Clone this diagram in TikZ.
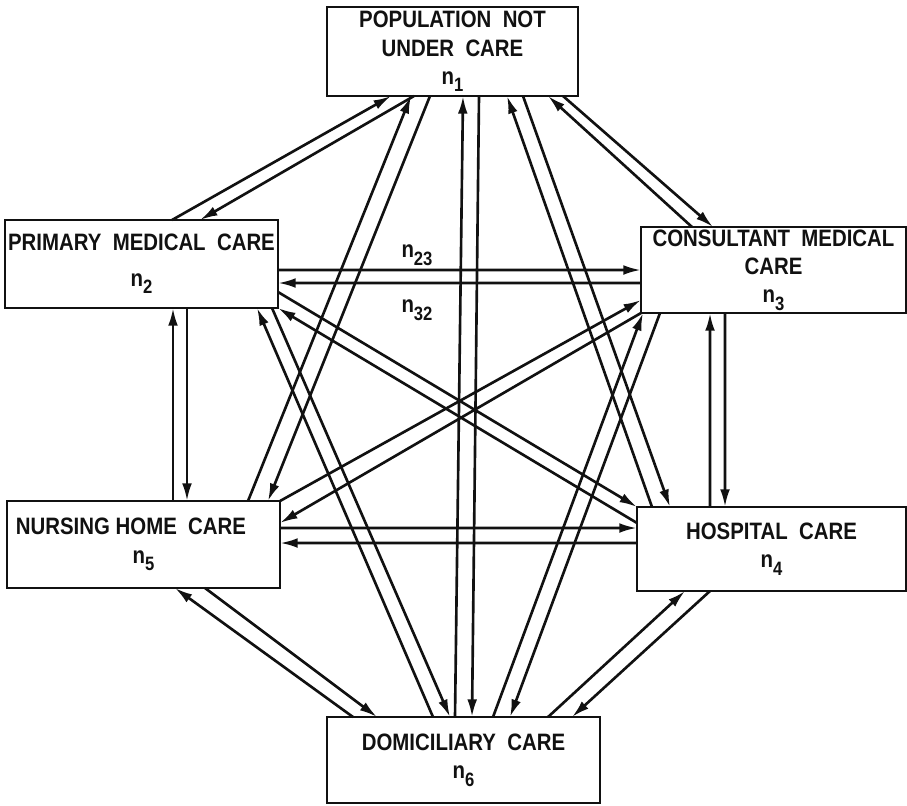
\documentclass[tikz,border=0pt]{standalone}
\usepackage{fontspec}
\setmainfont{Liberation Sans}
\newfontfamily\boxfont[FakeStretch=0.86]{Liberation Sans}
\usetikzlibrary{arrows.meta}
\definecolor{ink}{HTML}{111111}
\newcommand{\nlab}[1]{n\raisebox{-0.6ex}{\fontsize{11}{11}\selectfont #1}}

\begin{document}
\begin{tikzpicture}[
  box/.style={rectangle, draw=ink, line width=1.5pt, inner sep=0pt, outer sep=0pt,
              align=center, fill=white, text=ink,
              font=\boxfont\fontsize{13.5}{16}\selectfont\bfseries},
  arr/.style={-{Latex[length=10pt,width=5.5pt]}, line width=1.5pt, draw=ink},
  lab/.style={font=\boxfont\fontsize{13.5}{15}\selectfont\bfseries, text=ink}
]
\useasboundingbox (0,0) rectangle (18.14,-16.10);

\node[box, minimum width=5.02cm, minimum height=1.78cm] (n1) at (9.05,-1.03)
  {POPULATION \ NOT\\UNDER \ CARE\\\nlab{1}};
\node[box, minimum width=5.46cm, minimum height=1.76cm] (n2) at (2.83,-5.28)
  {PRIMARY \ MEDICAL \ CARE\\[4pt]\nlab{2}};
\node[box, minimum width=5.30cm, minimum height=1.72cm] (n3) at (15.47,-5.40)
  {CONSULTANT \ MEDICAL\\CARE\\\nlab{3}};
\node[box, minimum width=5.38cm, minimum height=1.68cm] (n4) at (15.43,-10.98)
  {HOSPITAL \ CARE\\\nlab{4}};
\node[box, minimum width=5.46cm, minimum height=1.74cm] (n5) at (2.87,-10.89)
  {NURSING HOME \ CARE\hspace*{0.5cm}\\\nlab{5}};
\node[box, minimum width=5.46cm, minimum height=1.72cm] (n6) at (9.27,-15.20)
  {DOMICILIARY \ CARE\\\nlab{6}};

\node[lab] (l23) at (8.34,-5.10) {\nlab{23}};
\node[lab] (l32) at (8.34,-6.20) {\nlab{32}};

% population not under care
\draw[arr] ([xshift=3.34cm]n2.north west) -- ([xshift=1.28cm]n1.south west);
\draw[arr] ([xshift=1.74cm]n1.south west) -- ([xshift=3.90cm]n2.north west);
\draw[arr] ([xshift=4.82cm]n5.north west) -- ([xshift=1.68cm]n1.south west);
\draw[arr] ([xshift=2.06cm]n1.south west) -- ([xshift=5.22cm]n5.north west);
\draw[arr] ([xshift=2.56cm]n6.north west) -- ([xshift=2.72cm]n1.south west);
\draw[arr] ([xshift=3.04cm]n1.south west) -- ([xshift=2.90cm]n6.north west);
\draw[arr] ([xshift=0.30cm]n4.north west) -- ([xshift=3.60cm]n1.south west);
\draw[arr] ([xshift=3.92cm]n1.south west) -- ([xshift=0.66cm]n4.north west);
\draw[arr] ([xshift=1.02cm]n3.north west) -- ([xshift=4.42cm]n1.south west);
\draw[arr] ([xshift=4.72cm]n1.south west) -- ([xshift=1.44cm]n3.north west);

% primary and consultant care
\draw[arr] ([yshift=-1.00cm]n2.north east) -- ([yshift=-0.86cm]n3.north west);
\draw[arr] ([yshift=-1.12cm]n3.north west) -- ([yshift=-1.26cm]n2.north east);
\draw[arr] ([yshift=-1.44cm]n2.north east) -- (n4.north west);
\draw[arr] ([yshift=-0.32cm]n4.north west) -- (n2.south east);
\draw[arr] (n5.north east) -- ([yshift=-1.46cm]n3.north west);
\draw[arr] (n3.south west) -- ([yshift=-0.44cm]n5.north east);
\draw[arr] ([xshift=3.32cm]n5.north west) -- ([xshift=3.36cm]n2.south west);
\draw[arr] ([xshift=3.64cm]n2.south west) -- ([xshift=3.60cm]n5.north west);
\draw[arr] ([xshift=1.46cm]n4.north west) -- ([xshift=1.38cm]n3.south west);
\draw[arr] ([xshift=1.68cm]n3.south west) -- ([xshift=1.76cm]n4.north west);

% hospital, nursing home and domiciliary care
\draw[arr] ([yshift=-0.54cm]n5.north east) -- ([yshift=-0.42cm]n4.north west);
\draw[arr] ([yshift=-0.72cm]n4.north west) -- ([yshift=-0.84cm]n5.north east);
\draw[arr] ([xshift=2.12cm]n6.north west) -- ([xshift=5.04cm]n2.south west);
\draw[arr] ([xshift=5.34cm]n2.south west) -- ([xshift=2.46cm]n6.north west);
\draw[arr] ([xshift=3.32cm]n6.north west) -- ([xshift=0.04cm]n3.south west);
\draw[arr] ([xshift=0.38cm]n3.south west) -- ([xshift=3.66cm]n6.north west);
\draw[arr] ([xshift=0.52cm]n6.north west) -- ([xshift=3.36cm]n5.south west);
\draw[arr] ([xshift=3.96cm]n5.south west) -- ([xshift=1.00cm]n6.north west);
\draw[arr] ([xshift=4.42cm]n6.north west) -- ([xshift=0.96cm]n4.south west);
\draw[arr] ([xshift=1.46cm]n4.south west) -- ([xshift=4.90cm]n6.north west);
\end{tikzpicture}
\end{document}
